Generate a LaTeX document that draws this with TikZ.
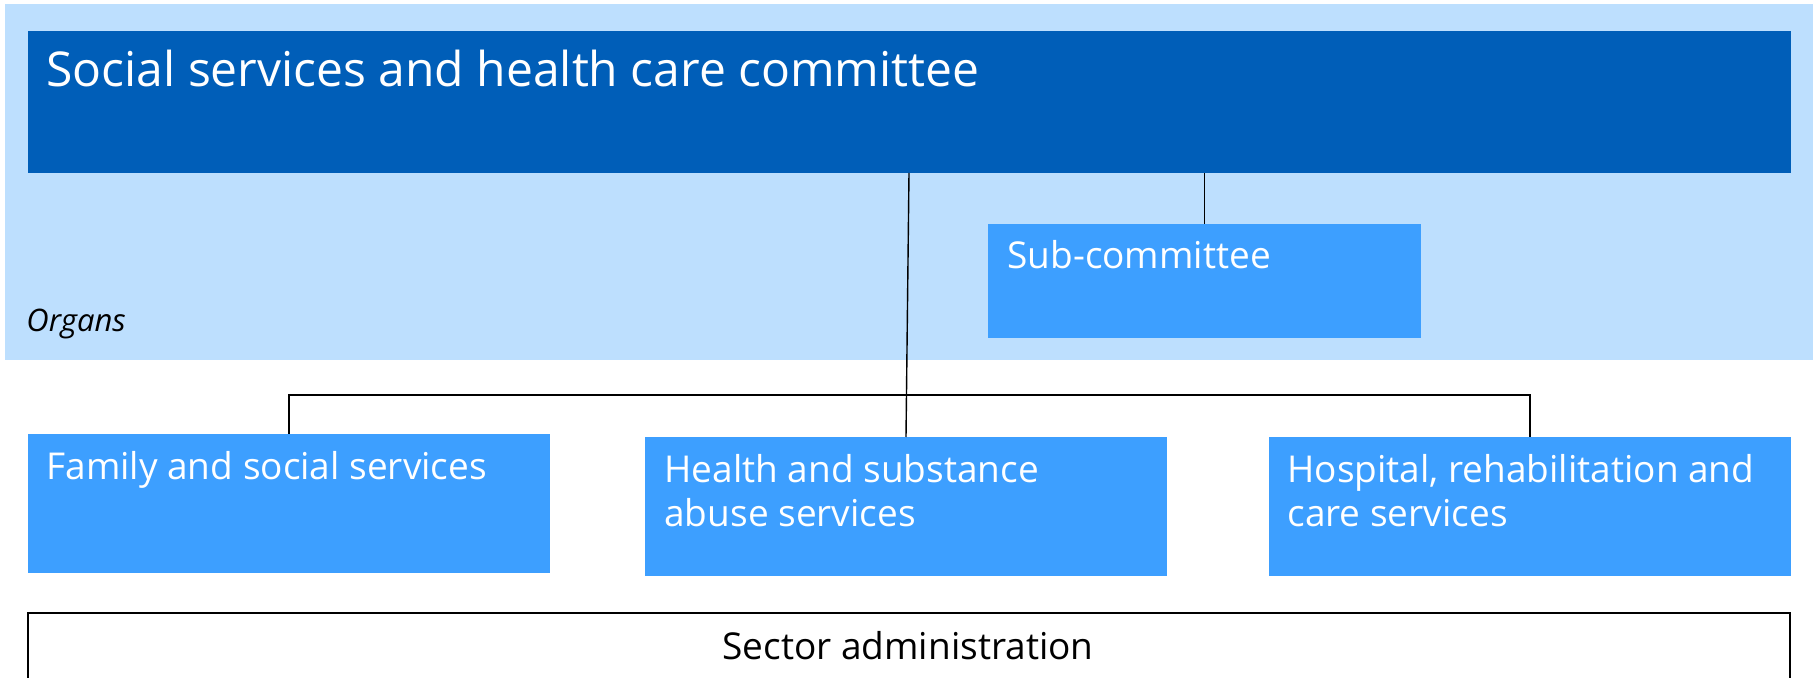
\documentclass[tikz,border=0pt]{standalone}
\usepackage{fontspec}
\setmainfont{Open Sans}
\usetikzlibrary{calc, positioning}
\definecolor{organbg}{HTML}{BDDFFE}
\definecolor{cmteblue}{HTML}{005EB8}
\definecolor{unitblue}{HTML}{3D9FFF}

\begin{document}
\begin{tikzpicture}[x=0.5pt,y=-0.5pt,
		blk/.style 2 args={anchor=north west,inner sep=0pt,outer sep=0pt,
			minimum width=#1*0.5pt,minimum height=#2*0.5pt},
		ubox/.style={fill=unitblue},
		btext/.style={anchor=base west,inner sep=0pt,text=white,align=left,
			font=\fontsize{18.5}{22.2}\selectfont},
		conn/.style={line width=0.7pt}]
	\clip (0,0) rectangle (1817,678);
	% organs
	\node[blk={1808}{356},fill=organbg] (organs) at (5,4) {};
	\node[blk={1763}{142},fill=cmteblue] (cmte) at (28,31) {};
	\node[blk={433}{114},ubox] (sub) at (988,224) {};
	\node[btext,font=\fontsize{24}{29}\selectfont] (cmtetxt) at (46,87) {Social services and health care committee};
	\node[btext] (subtxt) at (1007,269) {Sub-committee};
	\node[btext,text=black,font=\fontsize{15.5}{18}\selectfont\itshape] (orgtxt) at (26,332) {Organs};
	% connectors
	\coordinate (bus) at (0,395);
	\draw[conn] (sub.north) -- (sub.north |- cmte.south);
	% units
	\node[blk={522}{139},ubox] (fam) at (28,434) {};
	\node[blk={522}{139},ubox] (hlth) at (645,437) {};
	\node[blk={522}{139},ubox] (hosp) at (1269,437) {};
	\draw[conn] ($(cmte.south west)+(881,0)$) -- (hlth.north);
	\draw[conn] (fam.north) |- (bus -| hosp.north) -- (hosp.north);
	\node[btext] (famtxt) at (46,480) {Family and social services};
	\node[btext] (hlthtxt) at (664,527) {Health and substance\\abuse services};
	\node[btext] (hosptxt) at (1287,527) {Hospital, rehabilitation and\\care services};
	% administration
	\node[blk={1762}{120},draw,line width=0.75pt] (sect) at (28,613) {};
	\node[btext,text=black,anchor=base] (secttxt) at (908,660) {Sector administration};
\end{tikzpicture}
\end{document}
